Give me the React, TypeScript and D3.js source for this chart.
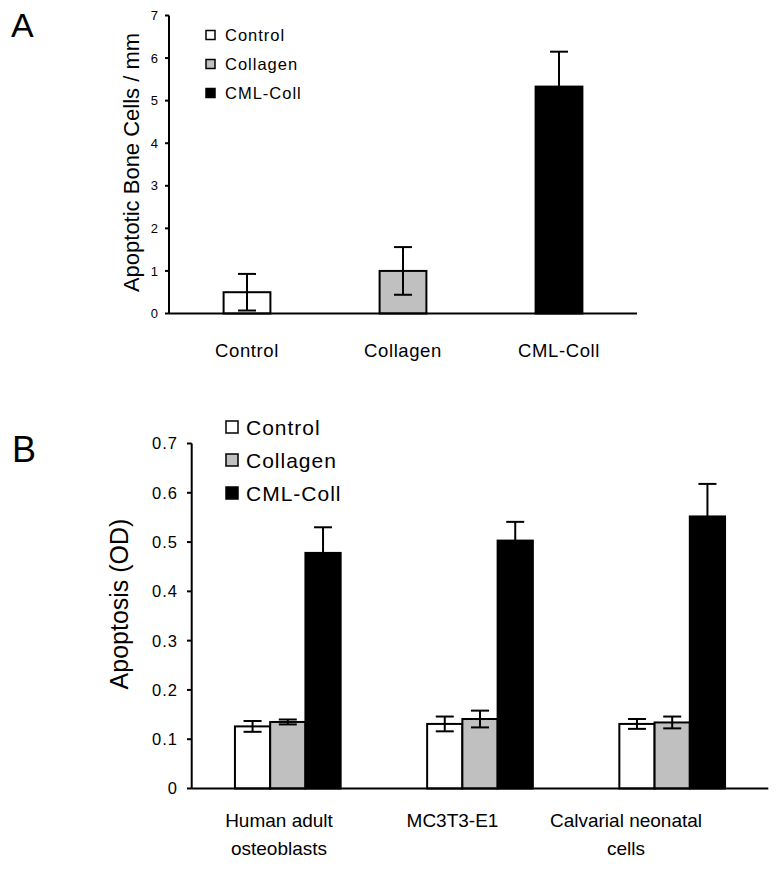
import React from 'react';
import * as d3 from 'd3';

// Panel A data
const panelACategories = ['Control', 'Collagen', 'CML-Coll'];
const panelAValues = [0.5, 1.0, 5.33];
const panelAErrors = [0.43, 0.56, 0.82];
const panelATicks = [0, 1, 2, 3, 4, 5, 6, 7];

// Panel B data
const seriesNames = ['Control', 'Collagen', 'CML-Coll'];
const seriesColors = ['#ffffff', '#c0c0c0', '#000000'];
const panelBGroups = ['Human adult osteoblasts', 'MC3T3-E1', 'Calvarial neonatal cells'];
const panelBGroupLabels = [['Human adult', 'osteoblasts'], ['MC3T3-E1'], ['Calvarial neonatal', 'cells']];
const controlValues = [0.126, 0.131, 0.131];
const controlErrors = [0.011, 0.015, 0.01];
const collagenValues = [0.135, 0.141, 0.134];
const collagenErrors = [0.005, 0.017, 0.012];
const cmlValues = [0.478, 0.503, 0.552];
const cmlErrors = [0.052, 0.038, 0.066];
const panelBTicks = [0, 0.1, 0.2, 0.3, 0.4, 0.5, 0.6, 0.7];

const FONT = "'Liberation Sans', Arial, Helvetica, sans-serif";

export default function App() {
  // Panel A scales
  const yA = d3.scaleLinear().domain([0, 7]).range([313.5, 15.5]);
  const xA = d3.scaleBand().domain(panelACategories).range([169, 637]).padding(0);
  const barWA = xA.bandwidth() * 0.3;
  const capA = 18;

  // Panel B scales
  const yB = d3.scaleLinear().domain([0, 0.7]).range([788.5, 443.5]);
  const xB = d3.scaleBand().domain(panelBGroups).range([191.7, 768.3]).padding(0);
  const groupW = xB.bandwidth() * 0.55;
  const x1 = d3.scaleBand().domain(seriesNames).range([0, groupW]).padding(0);
  const labelX = d3.scalePoint().domain(panelBGroups).range([279, 626]);
  const capB = 18;

  const seriesB = [
    { name: seriesNames[0], values: controlValues, errors: controlErrors, color: seriesColors[0] },
    { name: seriesNames[1], values: collagenValues, errors: collagenErrors, color: seriesColors[1] },
    { name: seriesNames[2], values: cmlValues, errors: cmlErrors, color: seriesColors[2] },
  ];

  const stroke = '#000';

  return (
    <svg width={780} height={869} style={{ position: 'absolute', left: 0, top: 0, background: '#fff' }}
      fontFamily={FONT}>
      <rect x={0} y={0} width={780} height={869} fill="#fff" />
      {/* Panel letters */}
      <text x={11} y={36.5} fontSize={34}>A</text>
      <text x={12} y={461.5} fontSize={36}>B</text>

      {/* ===== Panel A ===== */}
      <g>
        {panelACategories.map((c, i) => {
          const cx = (xA(c) as number) + xA.bandwidth() / 2;
          const v = panelAValues[i];
          const e = panelAErrors[i];
          return (
            <g key={c}>
              <rect x={cx - barWA / 2} y={yA(v)} width={barWA} height={yA(0) - yA(v)}
                fill={seriesColors[i]} stroke={stroke} strokeWidth={2} />
              <line x1={cx} x2={cx} y1={yA(v + e)} y2={yA(v - e)} stroke={stroke} strokeWidth={2} />
              <line x1={cx - capA / 2} x2={cx + capA / 2} y1={yA(v + e)} y2={yA(v + e)} stroke={stroke} strokeWidth={2} />
              <line x1={cx - capA / 2} x2={cx + capA / 2} y1={yA(v - e)} y2={yA(v - e)} stroke={stroke} strokeWidth={2} />
            </g>
          );
        })}
        {/* axes */}
        <line x1={169} x2={169} y1={yA(7)} y2={yA(0)} stroke={stroke} strokeWidth={2} />
        <line x1={169} x2={637} y1={yA(0)} y2={yA(0)} stroke={stroke} strokeWidth={2} />
        {panelATicks.map((t) => (
          <g key={t}>
            <line x1={165} x2={169} y1={yA(t)} y2={yA(t)} stroke={stroke} strokeWidth={2} />
            <text x={158} y={yA(t)} dy="0.36em" textAnchor="end" fontSize={13}>{t}</text>
          </g>
        ))}
        {panelACategories.map((c) => (
          <text key={c} x={(xA(c) as number) + xA.bandwidth() / 2} y={357} textAnchor="middle" fontSize={18.5}
            letterSpacing={0.6}>{c}</text>
        ))}
        <text transform={`translate(139,162.5) rotate(-90)`} textAnchor="middle" fontSize={22}>
          Apoptotic Bone Cells / mm
        </text>
        {/* legend */}
        {seriesNames.map((s, i) => (
          <g key={s} transform={`translate(206,${35 + i * 29})`}>
            <rect x={0} y={-4.5} width={9} height={9} fill={seriesColors[i]} stroke={stroke} strokeWidth={1.5} />
            <text x={19} y={0} dy="0.36em" fontSize={16.5} letterSpacing={1}>{s}</text>
          </g>
        ))}
      </g>

      {/* ===== Panel B ===== */}
      <g>
        {seriesB.map((s) => (
          <g key={s.name}>
            {panelBGroups.map((g, gi) => {
              const gx = (xB(g) as number) + xB.bandwidth() / 2 - groupW / 2;
              const bx = gx + (x1(s.name) as number);
              const cx = bx + x1.bandwidth() / 2;
              const v = s.values[gi];
              const e = s.errors[gi];
              return (
                <g key={g}>
                  <rect x={bx} y={yB(v)} width={x1.bandwidth()} height={yB(0) - yB(v)}
                    fill={s.color} stroke={stroke} strokeWidth={2} />
                  <line x1={cx} x2={cx} y1={yB(v + e)} y2={yB(v - e)} stroke={stroke} strokeWidth={2} />
                  <line x1={cx - capB / 2} x2={cx + capB / 2} y1={yB(v + e)} y2={yB(v + e)} stroke={stroke} strokeWidth={2} />
                  <line x1={cx - capB / 2} x2={cx + capB / 2} y1={yB(v - e)} y2={yB(v - e)} stroke={stroke} strokeWidth={2} />
                </g>
              );
            })}
          </g>
        ))}
        {/* axes */}
        <line x1={191.7} x2={191.7} y1={yB(0.7)} y2={yB(0)} stroke={stroke} strokeWidth={2} />
        <line x1={191.7} x2={768.3} y1={yB(0)} y2={yB(0)} stroke={stroke} strokeWidth={2} />
        {panelBTicks.map((t) => (
          <g key={t}>
            <line x1={187} x2={191.7} y1={yB(t)} y2={yB(t)} stroke={stroke} strokeWidth={2} />
            <text x={178} y={yB(t)} dy="0.36em" textAnchor="end" fontSize={16.5} letterSpacing={1}>
              {t === 0 ? '0' : d3.format('.1f')(t)}
            </text>
          </g>
        ))}
        {panelBGroups.map((g, gi) => (
          <text key={g} x={labelX(g)} y={826.5} textAnchor="middle" fontSize={19}>
            {panelBGroupLabels[gi].map((line, li) => (
              <tspan key={li} x={labelX(g)} dy={li === 0 ? 0 : 28.5}>{line}</tspan>
            ))}
          </text>
        ))}
        <text transform={`translate(128,604) rotate(-90)`} textAnchor="middle" fontSize={25}>
          Apoptosis (OD)
        </text>
        {/* legend */}
        {seriesNames.map((s, i) => (
          <g key={s} transform={`translate(226,${427 + i * 33})`}>
            <rect x={0} y={-6} width={12} height={12} fill={seriesColors[i]} stroke={stroke} strokeWidth={1.5} />
            <text x={20} y={0} dy="0.36em" fontSize={21} letterSpacing={1}>{s}</text>
          </g>
        ))}
      </g>
    </svg>
  );
}
